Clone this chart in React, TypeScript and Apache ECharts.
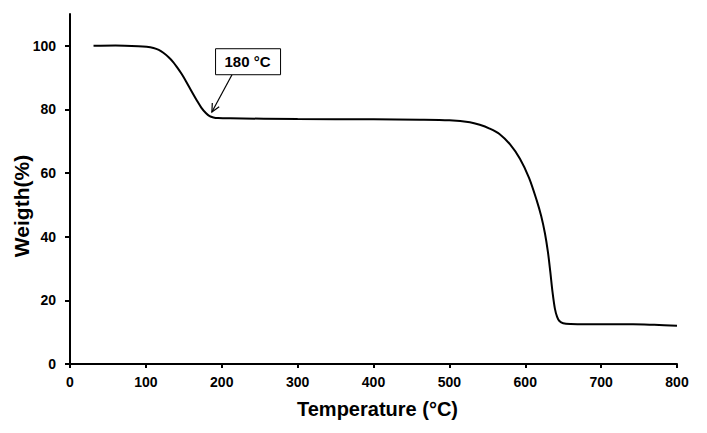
import React, { useEffect, useRef } from "react";
import * as echarts from "echarts";

const temperature = [31, 60, 90, 101, 110, 117, 123, 130, 136, 141, 147, 153, 160, 167, 173, 179, 184, 189, 195, 211, 300, 400, 461, 500, 527, 540, 553, 566, 580, 593, 605, 615, 621, 626, 630, 633, 636, 639, 642, 645, 650, 660, 700, 742, 770, 800];
const weight = [100.0, 100.1, 99.9, 99.7, 99.3, 98.7, 97.8, 96.4, 94.9, 93.3, 91.2, 88.8, 85.8, 82.9, 80.6, 78.9, 77.9, 77.5, 77.3, 77.2, 77.0, 76.9, 76.8, 76.6, 76.0, 75.2, 74.0, 72.3, 69.0, 64.5, 58.5, 51.5, 46.5, 41.0, 35.0, 29.0, 22.5, 17.5, 14.8, 13.5, 12.8, 12.6, 12.5, 12.5, 12.3, 12.0];
const xTicks = [0, 100, 200, 300, 400, 500, 600, 700, 800];
const yTicks = [0, 20, 40, 60, 80, 100];
const annotationText = "180 °C";
const annotationBox = [234, 95]; // data coords of label centre
const arrowFrom = [213.5, 90.9];
const arrowTo = [187, 79.2];

export default function App() {
  const ref = useRef<HTMLDivElement>(null);
  useEffect(() => {
    if (!ref.current) return;
    const chart = echarts.init(ref.current, null, { renderer: "svg" });
    const font = "'Liberation Sans', Arial, sans-serif";
    chart.setOption({
      animation: false,
      backgroundColor: "#fff",
      grid: { left: 70, right: 30, top: 14, bottom: 69, containLabel: false, outerBoundsMode: "none" },
      xAxis: {
        type: "value",
        min: 0,
        max: 800,
        interval: 100,
        name: "Temperature (°C)",
        nameLocation: "middle",
        nameGap: 35,
        nameMoveOverlap: false,
        nameTextStyle: { fontFamily: font, fontWeight: "bold", fontSize: 20, color: "#000", padding: [0, 0, 0, 8] },
        axisLine: { lineStyle: { color: "#000", width: 2 } },
        axisTick: { show: true, inside: false, length: 4, lineStyle: { color: "#000", width: 2 }, customValues: xTicks },
        axisLabel: { fontFamily: font, fontWeight: "bold", fontSize: 14, color: "#000", margin: 11, customValues: xTicks },
        splitLine: { show: false },
      },
      yAxis: {
        type: "value",
        min: 0,
        max: 110,
        name: "Weigth(%)",
        nameLocation: "middle",
        nameGap: 38,
        nameMoveOverlap: false,
        nameTextStyle: { fontFamily: font, fontWeight: "bold", fontSize: 21, color: "#000", padding: [0, 34, 0, 0] },
        axisLine: { show: true, lineStyle: { color: "#000", width: 2 } },
        axisTick: { show: true, inside: false, length: 5, lineStyle: { color: "#000", width: 2 }, customValues: yTicks },
        axisLabel: { fontFamily: font, fontWeight: "bold", fontSize: 14, color: "#000", margin: 14, customValues: yTicks },
        splitLine: { show: false },
      },
      series: [
        {
          type: "line",
          data: temperature.map((t, i) => [t, weight[i]]),
          showSymbol: false,
          smooth: 0.3,
          lineStyle: { color: "#000", width: 2 },
        },
      ],
    });

    const p = chart.convertToPixel({ gridIndex: 0 }, annotationBox) as number[];
    const a0 = chart.convertToPixel({ gridIndex: 0 }, arrowFrom) as number[];
    const a1 = chart.convertToPixel({ gridIndex: 0 }, arrowTo) as number[];
    const ang = Math.atan2(a0[1] - a1[1], a0[0] - a1[0]);
    const hl = 9;
    const spread = 0.45;
    const h1 = [a1[0] + hl * Math.cos(ang + spread), a1[1] + hl * Math.sin(ang + spread)];
    const h2 = [a1[0] + hl * Math.cos(ang - spread), a1[1] + hl * Math.sin(ang - spread)];
    chart.setOption({
      graphic: [
        {
          type: "polyline",
          shape: { points: [a0, a1] },
          style: { stroke: "#000", lineWidth: 1.2, fill: "none" },
        },
        {
          type: "polyline",
          shape: { points: [h1, a1, h2] },
          style: { stroke: "#000", lineWidth: 1.2, fill: "none" },
        },
        {
          type: "rect",
          shape: { x: p[0] - 32, y: p[1] - 13, width: 65, height: 26 },
          style: { fill: "#fff", stroke: "#000", lineWidth: 1 },
        },
        {
          type: "text",
          x: p[0],
          y: p[1],
          style: {
            text: annotationText,
            fontFamily: font,
            fontWeight: "bold",
            fontSize: 15,
            fill: "#000",
            align: "center",
            verticalAlign: "middle",
          },
        },
      ],
    });
    return () => chart.dispose();
  }, []);
  return <div ref={ref} style={{ position: "absolute", left: 0, top: 0, width: 707, height: 433 }} />;
}
